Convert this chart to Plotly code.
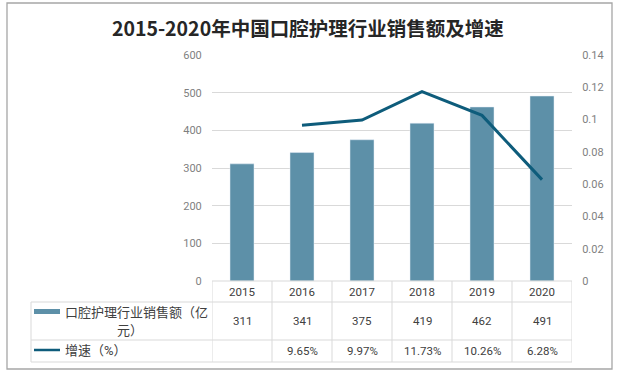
import plotly.graph_objects as go

years = ["2015", "2016", "2017", "2018", "2019", "2020"]
sales = [311, 341, 375, 419, 462, 491]
growth = [None, 0.0965, 0.0997, 0.1173, 0.1026, 0.0628]
left_ticks = [0, 100, 200, 300, 400, 500, 600]
right_ticks = [0, 0.02, 0.04, 0.06, 0.08, 0.1, 0.12, 0.14]
right_tick_text = ["0", "0.02", "0.04", "0.06", "0.08", "0.1", "0.12", "0.14"]
title = "2015-2020年中国口腔护理行业销售额及增速"
sales_label = ["口腔护理行业销售额（亿", "元）"]
growth_label = "增速（%）"

W, H = 623, 373
L, R, T, B = 212, 572, 55, 281

def px(x):
    return (x - L) / (R - L)

def py(y):
    return (B - y) / (B - T)

BAR = "#5d90a8"
LINE = "#0e5c7b"
GRID = "#d9d9d9"
TXT = "#404040"
TICK = "#7f7f7f"
FONT = "Roboto, 'Noto Sans CJK SC', sans-serif"

fig = go.Figure()
fig.add_trace(go.Bar(x=years, y=sales, marker_color=BAR, width=0.4,
                     hoverinfo="skip", yaxis="y"))
fig.add_trace(go.Scatter(x=years, y=growth, mode="lines",
                         line=dict(color=LINE, width=3), yaxis="y2",
                         hoverinfo="skip", connectgaps=False))

shapes = []
# outer frame
shapes.append(dict(type="rect", xref="paper", yref="paper",
                   x0=px(7), x1=px(612), y0=py(369), y1=py(3),
                   line=dict(color="#a6a6a6", width=1.3), layer="below"))
# table horizontal lines
shapes.append(dict(type="line", xref="paper", yref="paper", x0=0, x1=1,
                   y0=py(281), y1=py(281), line=dict(color=GRID, width=1)))
for yy in [302, 340, 362]:
    shapes.append(dict(type="line", xref="paper", yref="paper", x0=px(31), x1=1,
                       y0=py(yy), y1=py(yy), line=dict(color=GRID, width=1)))
# table vertical lines
shapes.append(dict(type="line", xref="paper", yref="paper", x0=px(31), x1=px(31),
                   y0=py(302), y1=py(362), line=dict(color=GRID, width=1)))
for i in range(len(years) + 1):
    shapes.append(dict(type="line", xref="x", yref="paper", x0=i - 0.5, x1=i - 0.5,
                       y0=py(281), y1=py(362), line=dict(color=GRID, width=1)))
# legend keys
shapes.append(dict(type="rect", xref="paper", yref="paper", x0=px(34), x1=px(60),
                   y0=py(314), y1=py(309), fillcolor=BAR, line=dict(width=0)))
shapes.append(dict(type="line", xref="paper", yref="paper", x0=px(34), x1=px(60),
                   y0=py(350), y1=py(350), line=dict(color=LINE, width=2.5)))

ann = []
num_font = dict(size=11.5, color=TXT, family=FONT)
for i, yv in enumerate(years):
    ann.append(dict(x=i, xref="x", y=py(291.5), yref="paper", text=yv,
                    xanchor="center", yanchor="middle", showarrow=False, font=num_font))
    ann.append(dict(x=i, xref="x", y=py(321), yref="paper", text=str(sales[i]),
                    xanchor="center", yanchor="middle", showarrow=False, font=num_font))
    if growth[i] is not None:
        ann.append(dict(x=i, xref="x", y=py(351), yref="paper",
                        text=f"{growth[i] * 100:.2f}%",
                        xanchor="center", yanchor="middle", showarrow=False, font=num_font))
lab_font = dict(size=13, color=TXT, family=FONT)
ann.append(dict(x=px(63), xref="paper", y=py(312), yref="paper", text=sales_label[0],
                xanchor="left", yanchor="middle", showarrow=False, font=lab_font))
ann.append(dict(x=px(130), xref="paper", y=py(330), yref="paper", text=sales_label[1],
                xanchor="center", yanchor="middle", showarrow=False, font=lab_font))
ann.append(dict(x=px(63), xref="paper", y=py(350), yref="paper", text=growth_label,
                xanchor="left", yanchor="middle", showarrow=False, font=lab_font))

fig.update_layout(
    width=W, height=H,
    margin=dict(l=L, r=W - R, t=T, b=H - B),
    paper_bgcolor="white", plot_bgcolor="white",
    showlegend=False,
    title=dict(text=f"<b>{title}</b>", x=0.494, xanchor="center",
               y=1 - 29 / H, yanchor="middle", yref="container",
               font=dict(size=19.5, color="#262626", family="'Noto Sans CJK SC', sans-serif")),
    xaxis=dict(type="category", range=[-0.5, 5.5], showticklabels=False,
               showgrid=False, showline=False, zeroline=False, fixedrange=True),
    yaxis=dict(range=[0, 600], tickvals=left_ticks, showgrid=True, gridcolor=GRID,
               gridwidth=1, zeroline=False, showline=False,
               tickfont=dict(size=11, color=TICK, family=FONT),
               ticks="outside", ticklen=7, tickcolor="rgba(0,0,0,0)"),
    yaxis2=dict(range=[0, 0.14], overlaying="y", side="right", tickvals=right_ticks,
                ticktext=right_tick_text, showgrid=False, zeroline=False, showline=False,
                tickfont=dict(size=11, color=TICK, family=FONT),
                ticks="outside", ticklen=7, tickcolor="rgba(0,0,0,0)"),
    shapes=shapes, annotations=ann, bargap=0.6,
)

fig.write_html("out.html", config={"displayModeBar": False},
               post_script="document.body.style.margin='0';document.body.style.overflow='hidden';")
